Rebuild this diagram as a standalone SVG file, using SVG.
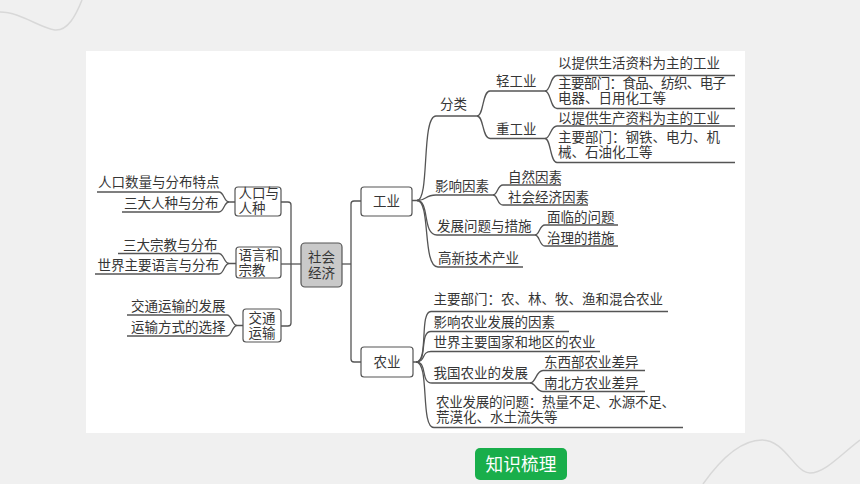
<svg xmlns="http://www.w3.org/2000/svg" width="860" height="484" viewBox="0 0 860 484">
<style>
.t{font-family:"Liberation Sans","Noto Sans CJK SC",sans-serif;font-size:13.5px;fill:#363636}
.c{text-anchor:middle}
.ln{fill:none;stroke:#555;stroke-width:1.3}
.box{fill:#fff;stroke:#555;stroke-width:1.2}
.deco{fill:none;stroke:#d8d8d8;stroke-width:1.5}
</style>
<rect x="0" y="0" width="860" height="484" fill="#f0f0f0"/>
<path class="deco" d="M0,12 C20,12 40,28 55,30 C68,31 76,15 82,0"/>
<path class="deco" d="M703,484 C720,460 740,440 762,440 C785,440 795,473 810,473 C825,473 840,455 860,440"/>
<rect x="86" y="51" width="659" height="382" fill="#fff"/>

<g id="connectors">
  <path class="ln" d="M281,202 H288 Q291,202 291,205 V323 Q291,326 288,326 H281"/>
  <path class="ln" d="M281,264 H301"/>
  <path class="ln" d="M361,201 H354 Q351,201 351,204 V359 Q351,362 354,362 H361"/>
  <path class="ln" d="M342,264 H351"/>
  <path class="ln" d="M97,192 H219 C224,192 224,202 229,202 H235"/>
  <path class="ln" d="M122,212 H219 C224,212 224,202 229,202"/>
  <path class="ln" d="M118,253.5 H219 C224,253.5 224,263.5 229,263.5 H236"/>
  <path class="ln" d="M95,274 H219 C224,274 224,263.5 229,263.5"/>
  <path class="ln" d="M127,315 H227 C232,315 232,325.5 237,325.5 H243"/>
  <path class="ln" d="M127,336 H227 C232,336 232,325.5 237,325.5"/>
  <path class="ln" d="M412,200.5 H417 C430,200.5 421,116 436,116 H477"/>
  <path class="ln" d="M417,200.5 C428,200.5 424,195 436,195 H493"/>
  <path class="ln" d="M417,200.5 C430,200.5 422,235 437,235 H535"/>
  <path class="ln" d="M417,200.5 C431,200.5 422,267 438,267 H523"/>
  <path class="ln" d="M477,116 C484,116 482,91 490,91 H545"/>
  <path class="ln" d="M477,116 C484,116 482,138.5 490,138.5 H545"/>
  <path class="ln" d="M545,91 C551,91 550,75.5 557,75.5 H735"/>
  <path class="ln" d="M545,91 C551,91 550,108.5 557,108.5 H735"/>
  <path class="ln" d="M545,138.5 C551,138.5 550,126 557,126 H735"/>
  <path class="ln" d="M545,138.5 C551,138.5 550,162.5 557,162.5 H735"/>
  <path class="ln" d="M493,195 C498,195 497,185 503,185 H561"/>
  <path class="ln" d="M493,195 C498,195 497,205 503,205 H588"/>
  <path class="ln" d="M535,235 C540,235 539,225 545,225 H618"/>
  <path class="ln" d="M535,235 C540,235 539,246 545,246 H618"/>
  <path class="ln" d="M413,362 H416 C429,362 419,311.5 431,311.5 H668"/>
  <path class="ln" d="M416,362 C428,362 419,331.5 431,331.5 H569"/>
  <path class="ln" d="M416,362 C426,362 421,351.5 431,351.5 H600"/>
  <path class="ln" d="M416,362 C428,362 420,383 432,383 H530"/>
  <path class="ln" d="M416,362 C430,362 420,427.5 434,427.5 H683"/>
  <path class="ln" d="M530,383 C536,383 536,370.5 543,370.5 H645"/>
  <path class="ln" d="M530,383 C536,383 536,391.5 543,391.5 H645"/>
</g>

<g id="n-center">
  <rect x="301" y="243" width="41" height="44" rx="4" fill="#c9c9c9" stroke="#555" stroke-width="1.2"/>
  <text class="t c"><tspan x="321.5" y="262">社会</tspan><tspan x="321.5" y="278">经济</tspan></text>
</g>

<g id="n-renkou">
  <rect class="box" x="235" y="187" width="46" height="29" rx="3"/>
  <text class="t"><tspan x="238.5" y="198">人口与</tspan><tspan x="238.5" y="213.3">人种</tspan></text>
</g>
<g id="n-yuyan">
  <rect class="box" x="236" y="247" width="45" height="31" rx="3"/>
  <text class="t"><tspan x="238.5" y="259.5">语言和</tspan><tspan x="238.5" y="274.8">宗教</tspan></text>
</g>
<g id="n-jiaotong">
  <rect class="box" x="243" y="309" width="38" height="33" rx="3"/>
  <text class="t c"><tspan x="262" y="322.7">交通</tspan><tspan x="262" y="338">运输</tspan></text>
</g>

<g id="n-left-leaves">
  <text class="t" x="98" y="187">人口数量与分布特点</text>
  <text class="t" x="124" y="208">三大人种与分布</text>
  <text class="t" x="123" y="249.5">三大宗教与分布</text>
  <text class="t" x="97.5" y="269.5">世界主要语言与分布</text>
  <text class="t" x="131" y="310.5">交通运输的发展</text>
  <text class="t" x="131" y="332">运输方式的选择</text>
</g>

<g id="n-gongye">
  <rect class="box" x="361" y="187" width="51" height="29" rx="3"/>
  <text class="t c" x="386.5" y="206">工业</text>
</g>
<g id="n-nongye">
  <rect class="box" x="361" y="347" width="52" height="30" rx="3"/>
  <text class="t c" x="387" y="367">农业</text>
</g>

<g id="n-gongye-leaves">
  <text class="t" x="440" y="109">分类</text>
  <text class="t" x="496" y="86">轻工业</text>
  <text class="t" x="496" y="134">重工业</text>
  <text class="t" x="558" y="68">以提供生活资料为主的工业</text>
  <text class="t"><tspan x="558" y="88" textLength="168" lengthAdjust="spacing">主要部门：食品、纺织、电子</tspan><tspan x="558" y="103.3">电器、日用化工等</tspan></text>
  <text class="t" x="558" y="122.5">以提供生产资料为主的工业</text>
  <text class="t"><tspan x="558" y="142">主要部门：钢铁、电力、机</tspan><tspan x="558" y="157.3">械、石油化工等</tspan></text>
  <text class="t" x="435" y="191">影响因素</text>
  <text class="t" x="508" y="181.5">自然因素</text>
  <text class="t" x="508" y="201.5">社会经济因素</text>
  <text class="t" x="437" y="231">发展问题与措施</text>
  <text class="t" x="547" y="221.5">面临的问题</text>
  <text class="t" x="547" y="242.5">治理的措施</text>
  <text class="t" x="438" y="262.5">高新技术产业</text>
</g>

<g id="n-nongye-leaves">
  <text class="t" x="433.5" y="304">主要部门：农、林、牧、渔和混合农业</text>
  <text class="t" x="433.5" y="326.5">影响农业发展的因素</text>
  <text class="t" x="433.5" y="346.5">世界主要国家和地区的农业</text>
  <text class="t" x="433.5" y="378">我国农业的发展</text>
  <text class="t" x="544" y="366.5">东西部农业差异</text>
  <text class="t" x="544" y="387.5">南北方农业差异</text>
  <text class="t"><tspan x="436" y="407" textLength="239" lengthAdjust="spacing">农业发展的问题：热量不足、水源不足、</tspan><tspan x="436" y="422.3">荒漠化、水土流失等</tspan></text>
</g>

<g id="n-button">
  <rect x="475" y="448" width="92" height="32" rx="5" fill="#19ae4b"/>
  <text x="521" y="470.5" text-anchor="middle" font-family="Noto Sans CJK SC,Noto Sans,sans-serif" font-size="17.7" fill="#fff">知识梳理</text>
</g>
</svg>
